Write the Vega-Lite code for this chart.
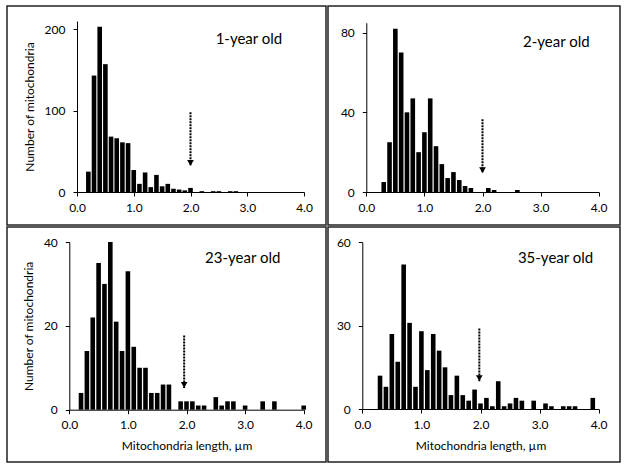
{
  "$schema": "https://vega.github.io/schema/vega-lite/v6.json",
  "padding": {"left": 6, "top": 5, "right": 5, "bottom": 5},
  "background": "white",
  "config": {
    "view": {"stroke": "#222", "strokeWidth": 1.5},
    "font": "Lato",
    "scale": {"continuousPadding": 0},
    "axis": {"grid": false, "domainColor": "#000", "tickColor": "#000", "labelColor": "#000", "titleColor": "#000", "labelFont": "Lato", "titleFont": "Lato", "labelFontSize": 12, "titleFontSize": 12, "titleFontWeight": "normal", "tickSize": 4, "labelOverlap": false, "labelFlush": false},
    "concat": {"spacing": 0}
  },
  "datasets": {
    "bars": [
      {"panel": 1, "length": 0.2, "count": 25}, {"panel": 1, "length": 0.3, "count": 143}, {"panel": 1, "length": 0.4, "count": 203}, {"panel": 1, "length": 0.5, "count": 157},
      {"panel": 1, "length": 0.6, "count": 68}, {"panel": 1, "length": 0.7, "count": 66}, {"panel": 1, "length": 0.8, "count": 61}, {"panel": 1, "length": 0.9, "count": 60},
      {"panel": 1, "length": 1.0, "count": 27}, {"panel": 1, "length": 1.1, "count": 10}, {"panel": 1, "length": 1.2, "count": 24}, {"panel": 1, "length": 1.3, "count": 6},
      {"panel": 1, "length": 1.4, "count": 21}, {"panel": 1, "length": 1.5, "count": 7}, {"panel": 1, "length": 1.6, "count": 10}, {"panel": 1, "length": 1.7, "count": 4},
      {"panel": 1, "length": 1.8, "count": 3}, {"panel": 1, "length": 1.9, "count": 2}, {"panel": 1, "length": 2.0, "count": 5}, {"panel": 1, "length": 2.2, "count": 1},
      {"panel": 1, "length": 2.4, "count": 1}, {"panel": 1, "length": 2.5, "count": 1}, {"panel": 1, "length": 2.7, "count": 1}, {"panel": 1, "length": 2.8, "count": 1},
      {"panel": 2, "length": 0.3, "count": 5}, {"panel": 2, "length": 0.4, "count": 25}, {"panel": 2, "length": 0.5, "count": 82}, {"panel": 2, "length": 0.6, "count": 70},
      {"panel": 2, "length": 0.7, "count": 40}, {"panel": 2, "length": 0.8, "count": 47}, {"panel": 2, "length": 0.9, "count": 20}, {"panel": 2, "length": 1.0, "count": 30},
      {"panel": 2, "length": 1.1, "count": 47}, {"panel": 2, "length": 1.2, "count": 23}, {"panel": 2, "length": 1.3, "count": 14}, {"panel": 2, "length": 1.4, "count": 7},
      {"panel": 2, "length": 1.5, "count": 10}, {"panel": 2, "length": 1.6, "count": 6}, {"panel": 2, "length": 1.7, "count": 3}, {"panel": 2, "length": 1.8, "count": 2},
      {"panel": 2, "length": 2.1, "count": 2}, {"panel": 2, "length": 2.2, "count": 1}, {"panel": 2, "length": 2.6, "count": 1},
      {"panel": 3, "length": 0.2, "count": 4}, {"panel": 3, "length": 0.3, "count": 14}, {"panel": 3, "length": 0.4, "count": 22}, {"panel": 3, "length": 0.5, "count": 35},
      {"panel": 3, "length": 0.6, "count": 30}, {"panel": 3, "length": 0.7, "count": 40}, {"panel": 3, "length": 0.8, "count": 21}, {"panel": 3, "length": 0.9, "count": 14},
      {"panel": 3, "length": 1.0, "count": 33}, {"panel": 3, "length": 1.1, "count": 15}, {"panel": 3, "length": 1.2, "count": 10}, {"panel": 3, "length": 1.3, "count": 10},
      {"panel": 3, "length": 1.4, "count": 4}, {"panel": 3, "length": 1.5, "count": 4}, {"panel": 3, "length": 1.6, "count": 6}, {"panel": 3, "length": 1.7, "count": 6},
      {"panel": 3, "length": 1.9, "count": 2}, {"panel": 3, "length": 2.0, "count": 2}, {"panel": 3, "length": 2.1, "count": 2}, {"panel": 3, "length": 2.2, "count": 1},
      {"panel": 3, "length": 2.3, "count": 1}, {"panel": 3, "length": 2.5, "count": 3}, {"panel": 3, "length": 2.6, "count": 1}, {"panel": 3, "length": 2.7, "count": 2},
      {"panel": 3, "length": 2.8, "count": 2}, {"panel": 3, "length": 3.0, "count": 1}, {"panel": 3, "length": 3.3, "count": 2}, {"panel": 3, "length": 3.5, "count": 2},
      {"panel": 3, "length": 4.0, "count": 1},
      {"panel": 4, "length": 0.3, "count": 12}, {"panel": 4, "length": 0.4, "count": 8}, {"panel": 4, "length": 0.5, "count": 27}, {"panel": 4, "length": 0.6, "count": 17},
      {"panel": 4, "length": 0.7, "count": 52}, {"panel": 4, "length": 0.8, "count": 31}, {"panel": 4, "length": 0.9, "count": 8}, {"panel": 4, "length": 1.0, "count": 28},
      {"panel": 4, "length": 1.1, "count": 14}, {"panel": 4, "length": 1.2, "count": 27}, {"panel": 4, "length": 1.3, "count": 21}, {"panel": 4, "length": 1.4, "count": 15},
      {"panel": 4, "length": 1.5, "count": 5}, {"panel": 4, "length": 1.6, "count": 12}, {"panel": 4, "length": 1.7, "count": 5}, {"panel": 4, "length": 1.8, "count": 3},
      {"panel": 4, "length": 1.9, "count": 7}, {"panel": 4, "length": 2.0, "count": 2}, {"panel": 4, "length": 2.1, "count": 4}, {"panel": 4, "length": 2.2, "count": 1},
      {"panel": 4, "length": 2.3, "count": 10}, {"panel": 4, "length": 2.4, "count": 1}, {"panel": 4, "length": 2.5, "count": 2}, {"panel": 4, "length": 2.6, "count": 4},
      {"panel": 4, "length": 2.7, "count": 3}, {"panel": 4, "length": 2.9, "count": 3}, {"panel": 4, "length": 3.1, "count": 2}, {"panel": 4, "length": 3.2, "count": 1},
      {"panel": 4, "length": 3.4, "count": 1}, {"panel": 4, "length": 3.5, "count": 1}, {"panel": 4, "length": 3.6, "count": 1}, {"panel": 4, "length": 3.9, "count": 4}
    ],
    "arrows": [
      {"panel": 1, "x": 2.0, "top": 98, "bottom": 32, "label": "1-year old", "lx": 3.03, "ly": 188},
      {"panel": 2, "x": 2.0, "top": 36.5, "bottom": 9.5, "label": "2-year old", "lx": 3.27, "ly": 75.5},
      {"panel": 3, "x": 1.96, "top": 17.7, "bottom": 5.2, "label": "23-year old", "lx": 2.96, "ly": 36.2},
      {"panel": 4, "x": 1.98, "top": 29, "bottom": 10, "label": "35-year old", "lx": 3.27, "ly": 54.3}
    ]
  },
  "columns": 2,
  "concat": [
    {
      "width": 319, "height": 219,
      "layer": [
        {
          "data": {"name": "bars"},
          "transform": [{"filter": "datum.panel === 1"}],
          "mark": {"type": "bar", "color": "#000", "size": 4.6},
          "encoding": {
            "x": {"field": "length", "type": "quantitative", "scale": {"domain": [0, 4], "range": [70, 297], "nice": false, "zero": false, "padding": 0},
                  "axis": {"values": [0, 0.5, 1, 1.5, 2, 2.5, 3, 3.5, 4], "labelExpr": "datum.value % 1 === 0 ? format(datum.value, '.1f') : ''", "offset": -33, "title": null, "labelPadding": 6}},
            "y": {"field": "count", "type": "quantitative", "scale": {"domain": [0, 210], "range": [186, 15], "nice": false},
                  "axis": {"values": [0, 100, 200], "offset": -70, "title": "Number of mitochondria", "titlePadding": 8, "labelPadding": 8}}
          }
        },
        {
          "data": {"name": "arrows"},
          "transform": [{"filter": "datum.panel === 1"}],
          "mark": {"type": "rule", "color": "#000", "strokeWidth": 2, "strokeDash": [2, 1]},
          "encoding": {"x": {"field": "x", "type": "quantitative"}, "y": {"field": "top", "type": "quantitative"}, "y2": {"field": "bottom"}}
        },
        {
          "data": {"name": "arrows"},
          "transform": [{"filter": "datum.panel === 1"}],
          "mark": {"type": "point", "shape": "triangle-down", "filled": true, "color": "#000", "size": 45, "opacity": 1, "yOffset": -3},
          "encoding": {"x": {"field": "x", "type": "quantitative"}, "y": {"field": "bottom", "type": "quantitative"}}
        },
        {
          "data": {"name": "arrows"},
          "transform": [{"filter": "datum.panel === 1"}],
          "mark": {"type": "text", "font": "Lato", "fontSize": 15, "fontWeight": "normal", "color": "#000"},
          "encoding": {"x": {"field": "lx", "type": "quantitative"}, "y": {"field": "ly", "type": "quantitative"}, "text": {"field": "label"}}
        }
      ]
    },
    {
      "width": 292, "height": 219,
      "layer": [
        {
          "data": {"name": "bars"},
          "transform": [{"filter": "datum.panel === 2"}],
          "mark": {"type": "bar", "color": "#000", "size": 4.6},
          "encoding": {
            "x": {"field": "length", "type": "quantitative", "scale": {"domain": [0, 4], "range": [38.3, 270.7], "nice": false, "zero": false, "padding": 0},
                  "axis": {"values": [0, 0.5, 1, 1.5, 2, 2.5, 3, 3.5, 4], "labelExpr": "datum.value % 1 === 0 ? format(datum.value, '.1f') : ''", "offset": -33, "title": null, "labelPadding": 6}},
            "y": {"field": "count", "type": "quantitative", "scale": {"domain": [0, 85], "range": [186, 16.7], "nice": false},
                  "axis": {"values": [0, 40, 80], "offset": -38.3, "title": null, "labelPadding": 8}}
          }
        },
        {
          "data": {"name": "arrows"},
          "transform": [{"filter": "datum.panel === 2"}],
          "mark": {"type": "rule", "color": "#000", "strokeWidth": 2, "strokeDash": [2, 1]},
          "encoding": {"x": {"field": "x", "type": "quantitative"}, "y": {"field": "top", "type": "quantitative"}, "y2": {"field": "bottom"}}
        },
        {
          "data": {"name": "arrows"},
          "transform": [{"filter": "datum.panel === 2"}],
          "mark": {"type": "point", "shape": "triangle-down", "filled": true, "color": "#000", "size": 45, "opacity": 1, "yOffset": -3},
          "encoding": {"x": {"field": "x", "type": "quantitative"}, "y": {"field": "bottom", "type": "quantitative"}}
        },
        {
          "data": {"name": "arrows"},
          "transform": [{"filter": "datum.panel === 2"}],
          "mark": {"type": "text", "font": "Lato", "fontSize": 15, "fontWeight": "normal", "color": "#000"},
          "encoding": {"x": {"field": "lx", "type": "quantitative"}, "y": {"field": "ly", "type": "quantitative"}, "text": {"field": "label"}}
        }
      ]
    },
    {
      "width": 319, "height": 235,
      "layer": [
        {
          "data": {"name": "bars"},
          "transform": [{"filter": "datum.panel === 3"}],
          "mark": {"type": "bar", "color": "#000", "size": 4.6},
          "encoding": {
            "x": {"field": "length", "type": "quantitative", "scale": {"domain": [0, 4], "range": [62.3, 296.7], "nice": false, "zero": false, "padding": 0},
                  "axis": {"values": [0, 0.5, 1, 1.5, 2, 2.5, 3, 3.5, 4], "labelExpr": "datum.value % 1 === 0 ? format(datum.value, '.1f') : ''", "offset": -52.3, "title": "Mitochondria length, µm", "titlePadding": 10, "labelPadding": 6}},
            "y": {"field": "count", "type": "quantitative", "scale": {"domain": [0, 40], "range": [182.7, 15], "nice": false},
                  "axis": {"values": [0, 20, 40], "offset": -62.3, "title": "Number of mitochondria", "titlePadding": 8, "labelPadding": 8}}
          }
        },
        {
          "data": {"name": "arrows"},
          "transform": [{"filter": "datum.panel === 3"}],
          "mark": {"type": "rule", "color": "#000", "strokeWidth": 2, "strokeDash": [2, 1]},
          "encoding": {"x": {"field": "x", "type": "quantitative"}, "y": {"field": "top", "type": "quantitative"}, "y2": {"field": "bottom"}}
        },
        {
          "data": {"name": "arrows"},
          "transform": [{"filter": "datum.panel === 3"}],
          "mark": {"type": "point", "shape": "triangle-down", "filled": true, "color": "#000", "size": 45, "opacity": 1, "yOffset": -3},
          "encoding": {"x": {"field": "x", "type": "quantitative"}, "y": {"field": "bottom", "type": "quantitative"}}
        },
        {
          "data": {"name": "arrows"},
          "transform": [{"filter": "datum.panel === 3"}],
          "mark": {"type": "text", "font": "Lato", "fontSize": 15, "fontWeight": "normal", "color": "#000"},
          "encoding": {"x": {"field": "lx", "type": "quantitative"}, "y": {"field": "ly", "type": "quantitative"}, "text": {"field": "label"}}
        }
      ]
    },
    {
      "width": 292, "height": 235,
      "layer": [
        {
          "data": {"name": "bars"},
          "transform": [{"filter": "datum.panel === 4"}],
          "mark": {"type": "bar", "color": "#000", "size": 4.6},
          "encoding": {
            "x": {"field": "length", "type": "quantitative", "scale": {"domain": [0, 4], "range": [34.3, 270.7], "nice": false, "zero": false, "padding": 0},
                  "axis": {"values": [0, 0.5, 1, 1.5, 2, 2.5, 3, 3.5, 4], "labelExpr": "datum.value % 1 === 0 ? format(datum.value, '.1f') : ''", "offset": -53, "title": "Mitochondria length, µm", "titlePadding": 10, "labelPadding": 6}},
            "y": {"field": "count", "type": "quantitative", "scale": {"domain": [0, 60], "range": [182, 15.3], "nice": false},
                  "axis": {"values": [0, 30, 60], "offset": -34.3, "title": null, "labelPadding": 8}}
          }
        },
        {
          "data": {"name": "arrows"},
          "transform": [{"filter": "datum.panel === 4"}],
          "mark": {"type": "rule", "color": "#000", "strokeWidth": 2, "strokeDash": [2, 1]},
          "encoding": {"x": {"field": "x", "type": "quantitative"}, "y": {"field": "top", "type": "quantitative"}, "y2": {"field": "bottom"}}
        },
        {
          "data": {"name": "arrows"},
          "transform": [{"filter": "datum.panel === 4"}],
          "mark": {"type": "point", "shape": "triangle-down", "filled": true, "color": "#000", "size": 45, "opacity": 1, "yOffset": -3},
          "encoding": {"x": {"field": "x", "type": "quantitative"}, "y": {"field": "bottom", "type": "quantitative"}}
        },
        {
          "data": {"name": "arrows"},
          "transform": [{"filter": "datum.panel === 4"}],
          "mark": {"type": "text", "font": "Lato", "fontSize": 15, "fontWeight": "normal", "color": "#000"},
          "encoding": {"x": {"field": "lx", "type": "quantitative"}, "y": {"field": "ly", "type": "quantitative"}, "text": {"field": "label"}}
        }
      ]
    }
  ]
}
